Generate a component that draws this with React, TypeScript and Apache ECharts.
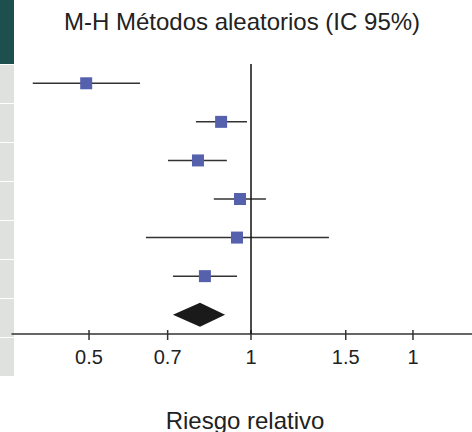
import React, { useEffect, useRef } from "react";
import * as echarts from "echarts";

// ---- data ----
const studyRows = [1, 2, 3, 4, 5, 6];
const estimates = [0.494, 0.88, 0.797, 0.954, 0.942, 0.821];
const lowerCI = [0.393, 0.79, 0.701, 0.853, 0.638, 0.716];
const upperCI = [0.622, 0.983, 0.902, 1.066, 1.396, 0.942];
const pooledRow = 7;
const pooledEstimate = 0.804;
const pooledLower = 0.716;
const pooledUpper = 0.895;
const tickValues = [0.5, 0.7, 1, 1.5, 2];
const tickLabels = ["0.5", "0.7", "1", "1.5", "1"];
const titleText = "M-H Métodos aleatorios (IC 95%)";
const axisTitle = "Riesgo relativo";
const stripCells = [0, 1, 2, 3, 4, 5, 6, 7];

const FONT = 'Arial, "Liberation Sans", Helvetica, sans-serif';

export default function App() {
  const ref = useRef<HTMLDivElement>(null);
  useEffect(() => {
    document.body.style.margin = "0";
    if (!ref.current) return;
    const chart = echarts.init(ref.current, null, { renderer: "svg" });

    const ciData = studyRows.map((r, i) => [lowerCI[i], upperCI[i], estimates[i], r - 0.5]);
    const pooledData = [[pooledLower, pooledUpper, pooledEstimate, pooledRow - 0.5]];
    const tickData = tickValues.map((v, i) => [v, 7, i]);

    const graphic: any[] = [
      { type: "rect", shape: { x: 0, y: 0, width: 14, height: 64 }, style: { fill: "#1d4f4f" }, silent: true },
      ...stripCells.map((c) => ({
        type: "rect",
        shape: { x: 0, y: 65 + c * 39, width: 14, height: 38 },
        style: { fill: "#dfe1de" },
        silent: true,
      })),
      {
        type: "text",
        x: 242,
        y: 21,
        style: { text: titleText, align: "center", verticalAlign: "middle", fontSize: 24, fontFamily: FONT, fill: "#222" },
      },
      {
        type: "text",
        x: 245,
        y: 420,
        style: { text: axisTitle, align: "center", verticalAlign: "middle", fontSize: 24, fontFamily: FONT, fill: "#222" },
      },
    ];

    const option: any = {
      animation: false,
      backgroundColor: "#ffffff",
      graphic,
      grid: { left: 12, right: 0, top: 64, height: 270 },
      xAxis: {
        type: "log",
        logBase: 10,
        min: 0.3596,
        max: 2.575,
        position: "bottom",
        axisLine: { show: true, onZero: false, lineStyle: { color: "#333", width: 1.5 } },
        axisTick: { show: false },
        axisLabel: { show: false },
        splitLine: { show: false },
      },
      yAxis: { type: "value", min: 0, max: 7, inverse: true, show: false },
      series: [
        {
          type: "custom",
          name: "studies",
          data: ciData,
          encode: { x: [0, 1, 2], y: 3 },
          renderItem: (params: any, api: any) => {
            const row = api.value(3);
            const a = api.coord([api.value(0), row]);
            const b = api.coord([api.value(1), row]);
            const c = api.coord([api.value(2), row]);
            return {
              type: "group",
              children: [
                { type: "line", shape: { x1: a[0], y1: a[1], x2: b[0], y2: b[1] }, style: { stroke: "#333", lineWidth: 1.5 } },
                { type: "rect", shape: { x: c[0] - 6, y: c[1] - 6, width: 12, height: 12 }, style: { fill: "#5661ad" } },
              ],
            };
          },
          markLine: {
            silent: true,
            symbol: "none",
            label: { show: false },
            lineStyle: { color: "#111", width: 1.5, type: "solid" },
            data: [{ xAxis: 1 }],
          },
        },
        {
          type: "custom",
          name: "pooled",
          data: pooledData,
          encode: { x: [0, 1, 2], y: 3 },
          renderItem: (params: any, api: any) => {
            const row = api.value(3);
            const a = api.coord([api.value(0), row]);
            const b = api.coord([api.value(1), row]);
            const c = api.coord([api.value(2), row]);
            return {
              type: "polygon",
              shape: { points: [[a[0], a[1]], [c[0], c[1] - 12], [b[0], b[1]], [c[0], c[1] + 12]] },
              style: { fill: "#1a1a1a" },
            };
          },
        },
        {
          type: "custom",
          name: "ticks",
          data: tickData,
          encode: { x: 0, y: 1 },
          renderItem: (params: any, api: any) => {
            const p = api.coord([api.value(0), api.value(1)]);
            const idx = api.value(2);
            return {
              type: "group",
              children: [
                { type: "line", shape: { x1: p[0], y1: p[1] - 4, x2: p[0], y2: p[1] + 6 }, style: { stroke: "#333", lineWidth: 1.5 } },
                {
                  type: "text",
                  x: p[0],
                  y: p[1] + 23,
                  style: { text: tickLabels[idx], align: "center", verticalAlign: "middle", fontSize: 20, fontFamily: FONT, fill: "#222" },
                },
              ],
            };
          },
        },
      ],
    };
    chart.setOption(option);
    return () => chart.dispose();
  }, []);
  return <div ref={ref} style={{ width: 472, height: 432 }} />;
}
